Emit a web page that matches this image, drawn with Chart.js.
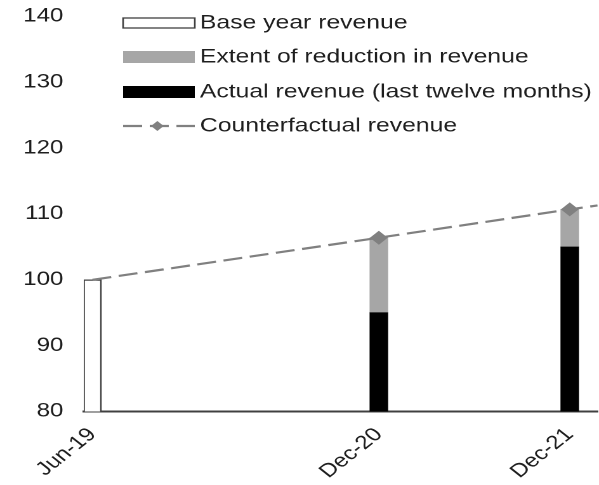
<!DOCTYPE html>
<html>
<head>
<meta charset="utf-8">
<script src="https://cdn.jsdelivr.net/npm/chart.js@4.4.1/dist/chart.umd.min.js"></script>
<style>
  html, body { margin: 0; padding: 0; background: #ffffff; overflow: hidden; }
  #stage { width: 599px; height: 485px; overflow: hidden; }
  #wrap { width: 472px; height: 485px; transform: scaleX(1.269); transform-origin: 0 0; }
</style>
</head>
<body>
<div id="stage"><div id="wrap"><canvas id="chart"></canvas></div></div>
<script>
// ---- Data ----
const categories = ['Jun-19', 'Dec-20', 'Dec-21'];
const monthsFromBase = [0, 18, 30];              // position of each category on the time line (months after Jun-19)
const baseYearRevenue = [100, null, null];
const actualRevenue = [null, 95, 105];
const reductionInRevenue = [null, 11.4, 5.7];
const counterfactualMonths = [0, 18, 30, 31.75];
const counterfactualRevenue = [100, 106.4, 110.7, 111.3];
const yTicks = [80, 90, 100, 110, 120, 130, 140];

const labels = {
  base: 'Base year revenue',
  reduction: 'Extent of reduction in revenue',
  actual: 'Actual revenue (last twelve months)',
  counterfactual: 'Counterfactual revenue'
};

const toPoints = (xs, ys) => xs.map((x, i) => ({ x: x, y: ys[i] }));

const FONT = "'Liberation Sans', Arial, sans-serif";
const TEXT = '#1e1e1e';

const insideLegend = {
  id: 'insideLegend',
  afterDraw(chart) {
    const ctx = chart.ctx;
    const boxX = 97, boxW = 56.5, textX = 157.5;
    const rows = [23, 57, 92, 126];
    const order = [1, 3, 2, 0];
    ctx.save();
    ctx.font = '19.5px ' + FONT;
    ctx.textBaseline = 'middle';
    ctx.textAlign = 'left';
    order.forEach((dsIndex, r) => {
      const ds = chart.data.datasets[dsIndex];
      const y = rows[r];
      if (ds.type === 'line') {
        ctx.save();
        ctx.strokeStyle = ds.borderColor;
        ctx.lineWidth = ds.borderWidth;
        ctx.setLineDash(ds.borderDash);
        ctx.beginPath();
        ctx.moveTo(boxX, y);
        ctx.lineTo(boxX + boxW, y);
        ctx.stroke();
        ctx.fillStyle = ds.pointBackgroundColor;
        ctx.beginPath();
        ctx.moveTo(boxX + 27, y - 5);
        ctx.lineTo(boxX + 32, y);
        ctx.lineTo(boxX + 27, y + 5);
        ctx.lineTo(boxX + 22, y);
        ctx.closePath();
        ctx.fill();
        ctx.restore();
      } else {
        const isWhite = ds.backgroundColor === '#ffffff';
        const h = isWhite ? 10 : 12;
        ctx.save();
        ctx.fillStyle = ds.backgroundColor;
        ctx.fillRect(boxX, y - h / 2, boxW, h);
        if (isWhite) {
          ctx.strokeStyle = ds.borderColor;
          ctx.lineWidth = 1.3;
          ctx.strokeRect(boxX, y - h / 2, boxW, h);
        }
        ctx.restore();
      }
      ctx.fillStyle = TEXT;
      ctx.fillText(ds.label, textX, y);
    });
    ctx.restore();
  }
};

new Chart(document.getElementById('chart'), {
  type: 'bar',
  data: {
    datasets: [
      {
        type: 'line',
        label: labels.counterfactual,
        data: toPoints(counterfactualMonths, counterfactualRevenue),
        borderColor: '#808080',
        borderWidth: 2.2,
        borderDash: [15, 6],
        pointStyle: 'rectRot',
        pointRadius: ctx => (ctx.dataIndex > 0 && ctx.dataIndex < counterfactualMonths.length - 1) ? 7 : 0,
        pointBackgroundColor: '#808080',
        pointBorderWidth: 0,
        tension: 0,
        order: 0
      },
      {
        label: labels.base,
        data: toPoints(monthsFromBase, baseYearRevenue),
        backgroundColor: '#ffffff',
        borderColor: '#404040',
        borderWidth: 1.3,
        stack: 'rev',
        order: 1
      },
      {
        label: labels.actual,
        data: toPoints(monthsFromBase, actualRevenue),
        backgroundColor: '#000000',
        borderWidth: 0,
        stack: 'rev',
        order: 1
      },
      {
        label: labels.reduction,
        data: toPoints(monthsFromBase, reductionInRevenue),
        backgroundColor: '#a6a6a6',
        borderWidth: 0,
        stack: 'rev',
        order: 1
      }
    ]
  },
  options: {
    responsive: true,
    maintainAspectRatio: false,
    animation: false,
    devicePixelRatio: 2,
    barThickness: 14,
    layout: { padding: { top: 16.5, right: 0, left: 0, bottom: 0 } },
    plugins: {
      legend: { display: false },
      tooltip: { enabled: false }
    },
    scales: {
      x: {
        type: 'linear',
        offset: false,
        min: -0.55,
        max: 31.75,
        grid: { display: false },
        border: { display: true, color: '#404040', width: 2 },
        afterBuildTicks: scale => { scale.ticks = monthsFromBase.map(v => ({ value: v })); },
        afterFit: scale => { scale.height = 73.5; },
        ticks: {
          autoSkip: false,
          minRotation: 45,
          maxRotation: 45,
          padding: 4,
          color: TEXT,
          font: { family: FONT, size: 19 },
          callback: value => categories[monthsFromBase.indexOf(value)]
        }
      },
      y: {
        stacked: true,
        min: 80,
        max: 140,
        beginAtZero: false,
        grid: { display: true, drawOnChartArea: false, drawTicks: true, tickLength: 13, tickColor: 'rgba(0,0,0,0)', color: 'rgba(0,0,0,0)' },
        border: { display: false },
        afterBuildTicks: scale => { scale.ticks = yTicks.map(v => ({ value: v })); },
        afterFit: scale => { scale.width = 66; },
        ticks: {
          padding: 3,
          color: TEXT,
          font: { family: FONT, size: 19 }
        }
      }
    }
  },
  plugins: [insideLegend]
});
</script>
</body>
</html>
